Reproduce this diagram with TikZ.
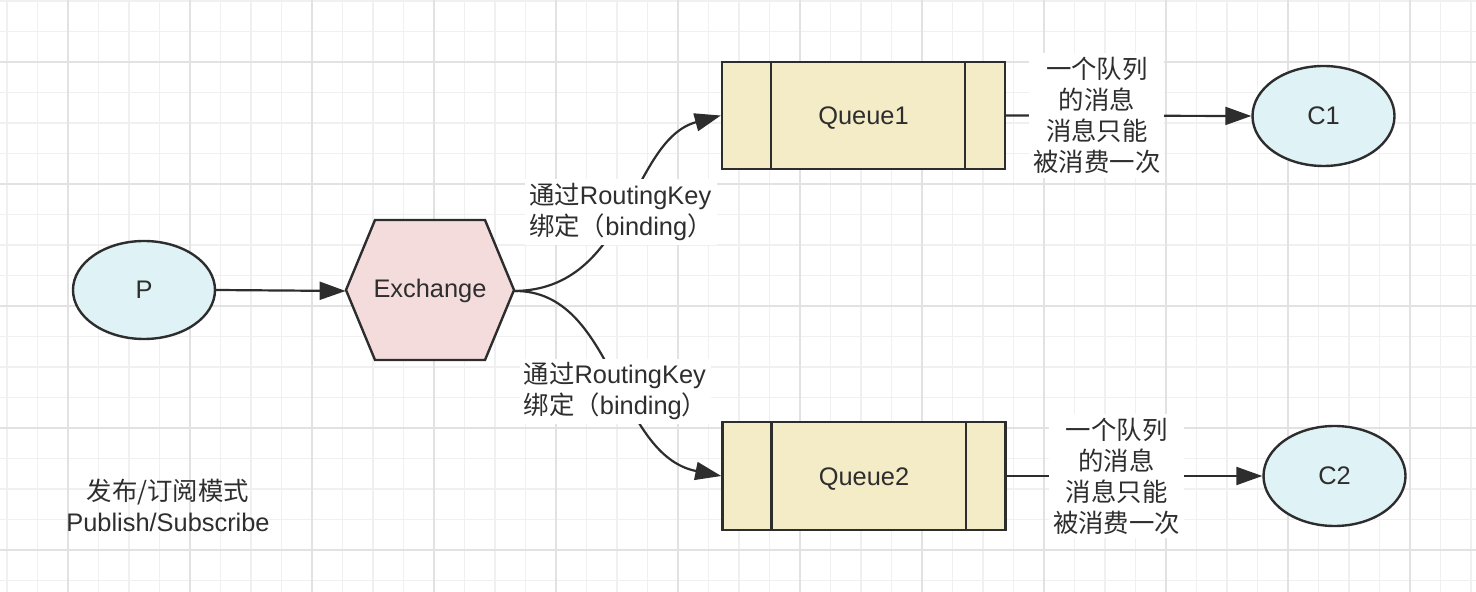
\documentclass[tikz,border=0pt]{standalone}
\usepackage{fontspec}
\setmainfont{Liberation Sans}
\newfontfamily\cjk{Noto Sans CJK SC}
\usetikzlibrary{shapes.geometric,arrows.meta}
\definecolor{ink}{HTML}{2D2D2D}
\definecolor{txt}{HTML}{2E2E2E}
\definecolor{cyanfill}{HTML}{DFF2F5}
\definecolor{pinkfill}{HTML}{F5DCDC}
\definecolor{creamfill}{HTML}{F4ECC6}
\definecolor{gridminor}{HTML}{F0F0F0}
\definecolor{gridmajor}{HTML}{E2E2E2}
\newcommand\labelsize{\fontsize{12.7pt}{15.5pt}\selectfont}
\tikzset{
  client/.style={draw=ink,line width=1.2pt,ellipse,fill=cyanfill,minimum width=71pt,minimum height=50pt,inner sep=0pt},
  queuebox/.style={draw=ink,line width=1.2pt,fill=creamfill,minimum width=141.5pt,minimum height=54pt,inner sep=0pt,text height=9.1pt,text depth=0pt},
  hexbox/.style={draw=ink,line width=1.2pt,fill=pinkfill},
  flow/.style={draw=ink,line width=1.1pt,-{Triangle[length=13pt,width=9pt]}},
  lbl/.style={fill=white,inner sep=2pt},
  cjklbl/.style={lbl,align=center,font=\labelsize\cjk}
}
\begin{document}
\begin{tikzpicture}[x=0.5pt,y=-0.5pt,font=\labelsize,text=txt]
\useasboundingbox (0,0) rectangle (1476,592);
% grid
\foreach \k in {-3,...,46} \draw[gridminor,line width=0.8pt] (68+30.5*\k,0) -- (68+30.5*\k,592);
\foreach \k in {-2,...,17} \draw[gridminor,line width=0.8pt] (0,62+30.5*\k) -- (1476,62+30.5*\k);
\foreach \k in {-1,...,11} \draw[gridmajor,line width=1pt] (68+122*\k,0) -- (68+122*\k,592);
\foreach \k in {0,...,4} \draw[gridmajor,line width=1pt] (0,62+122*\k) -- (1476,62+122*\k);
% shapes
\node[client,minimum height=49pt] (p) at (144,290) {P};
\draw[hexbox] (346,290) -- (375,220) -- (485,220) -- (514,290) -- (485,360) -- (375,360) -- cycle;
\node[minimum width=84pt,minimum height=70pt,inner sep=0pt] (ex) at (430,291) {Exchange};
\node[queuebox,minimum height=53.5pt] (q1) at (863.5,115.5) {Queue1};
\draw[ink,line width=1.2pt] ([xshift=25pt]q1.north west) -- ([xshift=25pt]q1.south west);
\draw[ink,line width=1.2pt] ([xshift=-20.5pt]q1.north east) -- ([xshift=-20.5pt]q1.south east);
\node[queuebox] (q2) at (864,476) {Queue2};
\draw[ink,line width=1.2pt] ([xshift=25pt]q2.north west) -- ([xshift=25pt]q2.south west);
\draw[ink,line width=1.2pt] ([xshift=-20.5pt]q2.north east) -- ([xshift=-20.5pt]q2.south east);
\node[client] (c1) at (1323.5,116) {C1};
\node[client] (c2) at (1334.5,476) {C2};
% connectors
\draw[flow] (p.east) -- (ex.west);
\draw[flow] (ex.east) .. controls (630,290) and (630,140) .. (q1.west)
  node[lbl,pos=0.5,align=left,xshift=-3pt] (bind1) {{\cjk 通过}RoutingKey\\{\cjk 绑定（}binding{\cjk ）}};
\draw[flow] (ex.east) .. controls (615,290) and (615,455) .. (q2.west)
  node[lbl,pos=0.55,align=left,xshift=-4pt,yshift=-1.5pt] (bind2) {{\cjk 通过}RoutingKey\\{\cjk 绑定（}binding{\cjk ）}};
\draw[flow] (q1.east) -- node[cjklbl,pos=0.37] (once1) {一个队列\\的消息\\消息只能\\被消费一次} (c1.west);
\draw[flow] (q2.east) -- node[cjklbl,pos=0.43] (once2) {一个队列\\的消息\\消息只能\\被消费一次} (c2.west);
\node[align=center] (mode) at (168,505) {{\cjk 发布/订阅模式}\\Publish/Subscribe};
\end{tikzpicture}
\end{document}
